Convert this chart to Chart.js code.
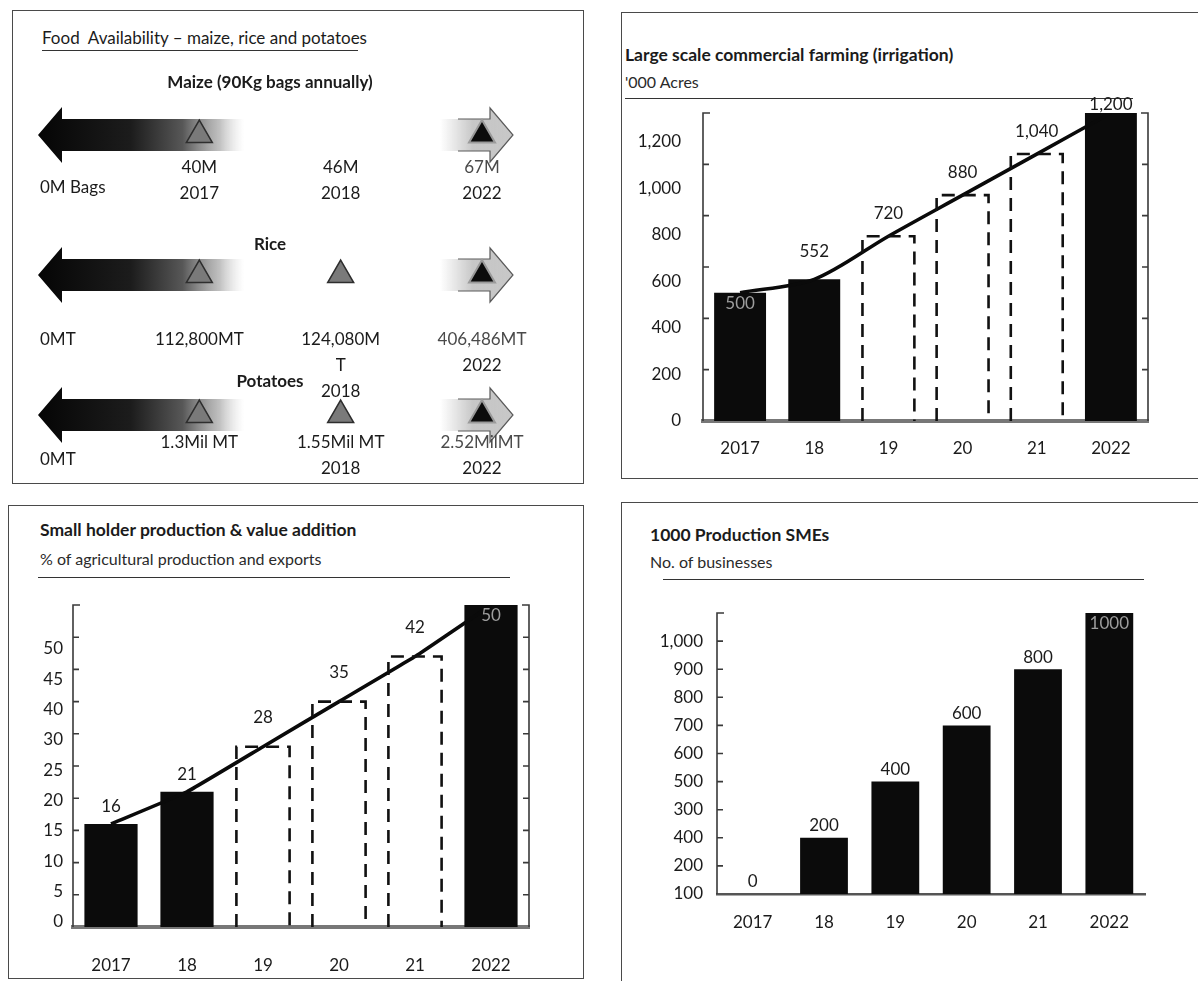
<!DOCTYPE html>
<html>
<head>
<meta charset="utf-8">
<script src="https://cdn.jsdelivr.net/npm/chart.js@4.4.1/dist/chart.umd.min.js"></script>
<style>
  html, body { margin: 0; padding: 0; background: #fff; }
  body { width: 1198px; height: 981px; position: relative; overflow: hidden;
         font-family: Lato, "Noto Sans", sans-serif; color: #1b1b1b; }
  .panel { position: absolute; border: 1.5px solid #4a4a4a; box-sizing: border-box; }
  .txt { position: absolute; white-space: pre; line-height: 1; }
  .title { font-weight: 700; font-size: 17.5px; }
  .plain { font-size: 17px; }
  .sub { font-size: 16px; color: #2a2a2a; }
  .rule { position: absolute; height: 0; border-top: 1.6px solid #333; }
  canvas { position: absolute; }
</style>
</head>
<body>
<!-- panel frames -->
<div class="panel" style="left:12px;top:10px;width:572px;height:474px"></div>
<div class="panel" style="left:621px;top:12px;width:700px;height:467px"></div>
<div class="panel" style="left:8px;top:505px;width:576px;height:474px"></div>
<div class="panel" style="left:621px;top:502px;width:700px;height:600px"></div>

<!-- headings -->
<div class="txt plain" style="left:42px;top:29px">Food  Availability – maize, rice and potatoes</div>
<div class="rule" style="left:42px;top:50px;width:316px"></div>

<div class="txt title" style="left:625px;top:46px">Large scale commercial farming (irrigation)</div>
<div class="txt sub" style="left:625px;top:74px">'000 Acres</div>
<div class="rule" style="left:625px;top:98px;width:508px"></div>

<div class="txt title" style="left:40px;top:521px">Small holder production &amp; value addition</div>
<div class="txt sub" style="left:40px;top:551px">% of agricultural production and exports</div>
<div class="rule" style="left:38px;top:577px;width:472px"></div>

<div class="txt title" style="left:650px;top:526px">1000 Production SMEs</div>
<div class="txt sub" style="left:650px;top:554px">No. of businesses</div>
<div class="rule" style="left:663px;top:579px;width:481px"></div>

<canvas id="food" width="566" height="420" style="left:14px;top:60px"></canvas>
<canvas id="acres" width="573" height="366" style="left:625px;top:95px"></canvas>
<canvas id="share" width="564" height="392" style="left:14px;top:585px"></canvas>
<canvas id="smes" width="572" height="339" style="left:626px;top:595px"></canvas>

<script>
// ---------- Food availability: milestones per crop ----------
const slots = ['0', '2017', '2018', '2022'];
const crops = ['Maize', 'Rice', 'Potatoes'];
const cropHeadings = ['Maize (90Kg bags annually)', 'Rice', 'Potatoes'];
const maizeAmounts = ['0M Bags', '40M', '46M', '67M'];
const riceAmounts = ['0MT', '112,800MT', '124,080M\nT', '406,486MT'];
const potatoAmounts = ['0MT', '1.3Mil MT', '1.55Mil MT', '2.52MilMT'];
const maizeYears = ['', '2017', '2018', '2022'];
const riceYears = ['', '', '2018', '2022'];
const potatoYears = ['', '', '2018', '2022'];
const maizeMarkers = ['2017', '2022'];
const riceMarkers = ['2017', '2018', '2022'];
const potatoMarkers = ['2017', '2018', '2022'];

// ---------- Bar panels ----------
const years = ['2017', '18', '19', '20', '21', '2022'];
const yearKinds = ['actual', 'actual', 'projected', 'projected', 'projected', 'target'];
const irrigatedAcres = [500, 552, 720, 880, 1040, 1200];
const acreTicks = ['0', '200', '400', '600', '800', '1,000', '1,200'];
const smallholderShare = [16, 21, 28, 35, 42, 50];
const shareTicks = ['0', '5', '10', '15', '20', '25', '30', '40', '45', '50'];
const smeCount = [0, 200, 400, 600, 800, 1000];
const smeTicks = ['100', '200', '400', '300', '500', '600', '700', '800', '900', '1,000'];

const FONT = 'Lato, "Noto Sans", sans-serif';
const INK = '#1b1b1b';

// ================= Food availability panel =================
const rowAmounts = [maizeAmounts, riceAmounts, potatoAmounts];
const rowYears = [maizeYears, riceYears, potatoYears];
const rowMarkers = [maizeMarkers, riceMarkers, potatoMarkers];
// vertical offsets of the text around each arrow row
const rowStyle = [
  { head: -52, amount: 33, zero: 53 },
  { head: -30, amount: 65, zero: 65 },
  { head: -33, amount: 28, zero: 45 }
];
const LINE = 26;

const lastSlot = slots[slots.length - 1];
const progressPts = [];
const targetPts = [];
rowMarkers.forEach((marks, r) => marks.forEach(s => {
  (s === lastSlot ? targetPts : progressPts).push({ x: s, y: crops[r] });
}));

function leftArrow(ctx, tipX, baseX, endX, y) {
  const g = ctx.createLinearGradient(tipX, 0, endX, 0);
  g.addColorStop(0, '#050505');
  g.addColorStop(0.45, '#1c1c1c');
  g.addColorStop(0.7, '#575757');
  g.addColorStop(0.88, 'rgba(140,140,140,0.55)');
  g.addColorStop(1, 'rgba(200,200,200,0)');
  ctx.beginPath();
  ctx.moveTo(tipX, y);
  ctx.lineTo(baseX, y - 28);
  ctx.lineTo(baseX, y - 16);
  ctx.lineTo(endX, y - 16);
  ctx.lineTo(endX, y + 16);
  ctx.lineTo(baseX, y + 16);
  ctx.lineTo(baseX, y + 28);
  ctx.closePath();
  ctx.fillStyle = g;
  ctx.fill();
}

function rightArrow(ctx, startX, baseX, tipX, y) {
  const g = ctx.createLinearGradient(startX, 0, tipX, 0);
  g.addColorStop(0, 'rgba(190,190,190,0)');
  g.addColorStop(0.45, 'rgba(185,185,185,0.8)');
  g.addColorStop(1, '#c8c8c8');
  ctx.beginPath();
  ctx.moveTo(startX, y - 16);
  ctx.lineTo(baseX, y - 16);
  ctx.lineTo(baseX, y - 27);
  ctx.lineTo(tipX, y);
  ctx.lineTo(baseX, y + 27);
  ctx.lineTo(baseX, y + 16);
  ctx.lineTo(startX, y + 16);
  ctx.closePath();
  ctx.fillStyle = g;
  ctx.fill();
  ctx.strokeStyle = '#5a5a5a';
  ctx.lineWidth = 1.2;
  ctx.beginPath();
  ctx.moveTo(startX + 18, y - 16); ctx.lineTo(baseX, y - 16); ctx.lineTo(baseX, y - 27);
  ctx.lineTo(tipX, y); ctx.lineTo(baseX, y + 27); ctx.lineTo(baseX, y + 16); ctx.lineTo(startX + 18, y + 16);
  ctx.stroke();
}

const foodPlugin = {
  id: 'foodRows',
  beforeDatasetsDraw(chart) {
    const { ctx, scales: { x, y } } = chart;
    const c0 = x.getPixelForValue(0), c1 = x.getPixelForValue(1), c3 = x.getPixelForValue(3);
    ctx.save();
    crops.forEach((crop, r) => {
      const py = y.getPixelForValue(r);
      leftArrow(ctx, c0 - 20, c0 + 4, c1 + 45, py);
      rightArrow(ctx, c3 - 42, c3 + 8, c3 + 31, py);
    });
    ctx.restore();
  },
  afterDatasetsDraw(chart) {
    const { ctx, scales: { x, y } } = chart;
    const c0 = x.getPixelForValue(0);
    const mid = (x.getPixelForValue(1) + x.getPixelForValue(2)) / 2;
    ctx.save();
    ctx.textBaseline = 'middle';
    crops.forEach((crop, r) => {
      const py = y.getPixelForValue(r);
      const st = rowStyle[r];
      ctx.font = '700 17px ' + FONT;
      ctx.fillStyle = INK;
      ctx.textAlign = 'center';
      ctx.fillText(cropHeadings[r], mid, py + st.head);
      ctx.font = '17px ' + FONT;
      rowAmounts[r].forEach((txt, s) => {
        const lines = txt.split('\n');
        if (s === 0) {
          ctx.textAlign = 'left';
          ctx.fillStyle = INK;
          ctx.fillText(txt, c0 - 18, py + st.zero);
          return;
        }
        const px = x.getPixelForValue(s);
        ctx.textAlign = 'center';
        ctx.fillStyle = s === slots.length - 1 ? '#4a4a4a' : INK;
        lines.forEach((ln, k) => ctx.fillText(ln, px, py + st.amount + k * LINE));
        const yr = rowYears[r][s];
        if (yr) {
          ctx.fillStyle = INK;
          ctx.fillText(yr, px, py + st.amount + lines.length * LINE);
        }
      });
    });
    ctx.restore();
  }
};

new Chart(document.getElementById('food'), {
  type: 'scatter',
  data: {
    datasets: [
      { data: targetPts, pointStyle: 'triangle', pointRadius: 15,
        backgroundColor: '#0c0c0c', borderColor: '#9a9a9a', borderWidth: 2 },
      { data: progressPts, pointStyle: 'triangle', pointRadius: 15,
        backgroundColor: '#7a7a7a', borderColor: '#2e2e2e', borderWidth: 1.5 }
    ]
  },
  options: {
    responsive: false, animation: false, events: [],
    layout: { padding: { left: 44, right: 98, top: 75, bottom: 65 } },
    plugins: { legend: { display: false }, tooltip: { enabled: false } },
    scales: {
      x: { type: 'category', labels: slots, offset: false, display: false },
      y: { type: 'category', labels: crops, offset: false, display: false }
    }
  },
  plugins: [foodPlugin]
});

// ================= Bar panel helpers =================
const bracketPlugin = {
  id: 'bracket',
  beforeDatasetsDraw(chart, args, o) {
    const ys = chart.scales.y, a = chart.chartArea, ctx = chart.ctx;
    ctx.save();
    ctx.strokeStyle = '#3a3a3a';
    ctx.lineWidth = 1.6;
    const sides = o.right ? [a.left, a.right] : [a.left];
    sides.forEach((sx, k) => {
      const dir = k === 0 ? 1 : -1;
      ctx.beginPath();
      ctx.moveTo(sx + dir * 7, a.top);
      ctx.lineTo(sx, a.top);
      ctx.lineTo(sx, a.bottom);
      for (let v = o.step; v < ys.max - 1e-9; v += o.step) {
        const py = ys.getPixelForValue(v);
        ctx.moveTo(sx, py);
        ctx.lineTo(sx + dir * 6, py);
      }
      ctx.stroke();
    });
    ctx.restore();
  }
};

const dashedPlugin = {
  id: 'dashedBars',
  afterDatasetsDraw(chart) {
    const ctx = chart.ctx;
    ctx.save();
    ctx.setLineDash([13, 8]);
    ctx.lineWidth = 2.6;
    ctx.strokeStyle = '#111';
    chart.data.datasets.forEach((ds, di) => {
      if (!ds.dashed) return;
      chart.getDatasetMeta(di).data.forEach((el, i) => {
        if (ds.data[i] == null) return;
        const { x, y, base, width } = el.getProps(['x', 'y', 'base', 'width'], true);
        const l = x - width / 2, r = x + width / 2;
        ctx.beginPath();
        ctx.moveTo(l, base); ctx.lineTo(l, y); ctx.lineTo(r, y); ctx.lineTo(r, base);
        ctx.stroke();
      });
    });
    ctx.restore();
  }
};

const valueLabelPlugin = {
  id: 'valueLabels',
  afterDatasetsDraw(chart, args, o) {
    const ctx = chart.ctx, a = chart.chartArea;
    ctx.save();
    ctx.font = '17px ' + FONT;
    ctx.textAlign = 'center';
    ctx.textBaseline = 'middle';
    chart.data.datasets.forEach((ds, di) => {
      if (ds.type !== 'bar') return;
      chart.getDatasetMeta(di).data.forEach((el, i) => {
        const v = ds.data[i];
        if (v == null) return;
        const { x, y } = el.getProps(['x', 'y'], true);
        const text = o.format(v);
        if (o.inside.includes(i)) {
          ctx.fillStyle = '#9d9d9d';
          ctx.fillText(text, x, y + 11);
        } else {
          ctx.fillStyle = INK;
          const lift = ds.dashed ? o.liftDashed : o.lift;
          ctx.fillText(text, x, Math.max(y - lift, a.top - 8));
        }
      });
    });
    ctx.restore();
  }
};

// keep the axis boxes at their fixed sizes without extra label padding
function fixBox(size, key) {
  return s => {
    s[key] = size;
    s.paddingTop = 0; s.paddingBottom = 0; s.paddingLeft = 0; s.paddingRight = 0;
  };
}

function barPanel(id, c) {
  const solid = c.values.map((v, i) => (c.projected && yearKinds[i] === 'projected') ? null : v);
  const dashed = c.values.map((v, i) => (c.projected && yearKinds[i] === 'projected') ? v : null);
  const datasets = [];
  if (c.trend) {
    datasets.push({ type: 'line', data: c.values, yAxisID: 'y', borderColor: '#0a0a0a',
      borderWidth: 3.6, pointRadius: 0, tension: c.tension, fill: false });
  }
  datasets.push({ type: 'bar', data: solid, yAxisID: 'y', backgroundColor: '#0b0b0b',
    grouped: false, barPercentage: c.barPct, categoryPercentage: 1 });
  if (c.projected) {
    datasets.push({ type: 'bar', data: dashed, yAxisID: 'y', dashed: true,
      backgroundColor: 'rgba(0,0,0,0)', grouped: false, barPercentage: c.barPct, categoryPercentage: 1 });
  }
  const tickFont = { family: FONT, size: 17 };
  new Chart(document.getElementById(id), {
    type: 'bar',
    data: { labels: years, datasets },
    options: {
      responsive: false, animation: false, events: [],
      layout: { padding: { top: c.padTop, right: c.padRight, left: 0, bottom: 0 } },
      plugins: {
        legend: { display: false }, tooltip: { enabled: false },
        bracket: { step: c.step, right: c.rightBracket },
        valueLabels: { format: c.format, inside: c.inside, lift: c.lift, liftDashed: c.liftDashed }
      },
      scales: {
        x: {
          grid: { display: false, drawTicks: false },
          border: { display: true, color: c.baseColor, width: c.baseWidth },
          ticks: { font: tickFont, color: INK, padding: c.xPad, maxRotation: 0, autoSkip: false },
          afterFit: fixBox(c.xHeight, 'height')
        },
        y: { display: false, min: 0, max: c.yMax },
        yl: {
          position: 'left', min: c.labelMin, max: c.labelMax,
          grid: { display: false, drawTicks: false }, border: { display: false },
          ticks: { stepSize: 1, includeBounds: false, autoSkip: false, padding: c.yPad,
                   font: tickFont, color: INK, callback: (v, i) => c.tickText[i] ?? '' },
          afterFit: fixBox(c.yWidth, 'width')
        }
      }
    },
    plugins: [bracketPlugin, dashedPlugin, valueLabelPlugin]
  });
}

barPanel('acres', {
  values: irrigatedAcres, tickText: acreTicks, projected: true, trend: true, tension: 0.3,
  yMax: 1200, step: 200, labelMin: 0, labelMax: 6.62, rightBracket: true,
  yWidth: 78, yPad: 22, padTop: 18, padRight: 50, xHeight: 40, xPad: 17, barPct: 0.7,
  baseColor: '#777', baseWidth: 4, inside: [0], lift: 28, liftDashed: 23,
  format: v => v.toLocaleString('en-US')
});

barPanel('share', {
  values: smallholderShare, tickText: shareTicks, projected: true, trend: true, tension: 0.1,
  yMax: 50, step: 5, labelMin: -0.17, labelMax: 10.45, rightBracket: true,
  yWidth: 59, yPad: 10, padTop: 20, padRight: 49, xHeight: 50, xPad: 28, barPct: 0.7,
  baseColor: '#777', baseWidth: 4, inside: [5], lift: 17, liftDashed: 29,
  format: v => String(v)
});

barPanel('smes', {
  values: smeCount, tickText: smeTicks, projected: false, trend: false,
  yMax: 1000, step: 100, labelMin: -0.2, labelMax: 9.8, rightBracket: false,
  yWidth: 91, yPad: 14, padTop: 18, padRight: 53, xHeight: 40, xPad: 18, barPct: 0.67,
  baseColor: '#555', baseWidth: 2.5, inside: [5], lift: 12, liftDashed: 12,
  format: v => String(v)
});
</script>
</body>
</html>
